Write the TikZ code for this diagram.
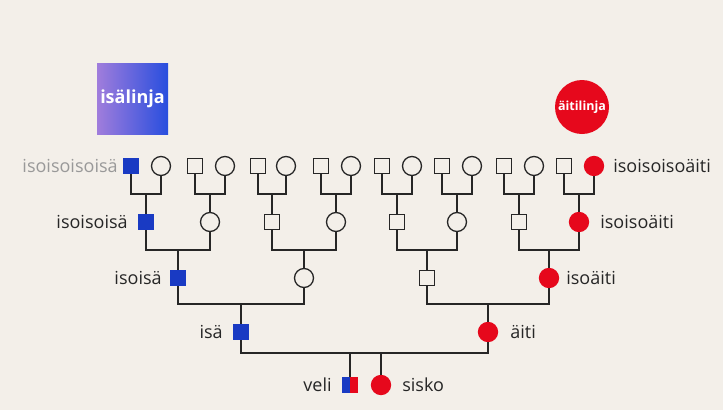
\documentclass[tikz,border=0pt]{standalone}
\usepackage{fontspec}
\setmainfont{Open Sans}
\usetikzlibrary{positioning}
\definecolor{paper}{RGB}{243,239,233}
\definecolor{patblue}{RGB}{25,58,195}
\definecolor{headblue}{RGB}{40,78,222}
\definecolor{patviolet}{RGB}{160,125,220}
\definecolor{matred}{RGB}{230,8,28}
\definecolor{ink}{RGB}{38,38,38}
\tikzset{
  man/.style={draw=ink, line width=1.3pt, fill=paper, minimum size=15pt, inner sep=0pt},
  woman/.style={circle, draw=ink, line width=1.3pt, fill=paper, minimum size=19pt, inner sep=0pt},
  blueman/.style={man, draw=patblue, fill=patblue},
  redwoman/.style={woman, draw=matred, fill=matred},
  lab/.style={inner sep=0pt, text=ink, font=\fontsize{18}{21}\selectfont},
  link/.style={draw=ink, line width=1.3pt},
}
\begin{document}
\begin{tikzpicture}[x=1pt, y=-1pt]
    \path[use as bounding box, fill=paper] (0,0) rectangle (723,410);
    % otsikot
    \node[minimum size=71pt, inner sep=0pt, left color=patviolet, middle color=headblue!80!patviolet,
          right color=headblue, text=white,
          font=\bfseries\fontsize{18}{21}\selectfont] (isalinja) at (132.5,99) {isälinja};
    \node[circle, minimum size=54pt, inner sep=0pt, fill=matred, text=white,
          font=\bfseries\fontsize{12.5}{15}\selectfont] (aitilinja) at (582,107) {äitilinja};
    % ylin rivi
    \node[blueman] (a1) at (131,166) {};
    \node[woman] (a2) at (161,166) {};
    \node[man] (a3) at (195,166) {};
    \node[woman] (a4) at (225,166) {};
    \node[man] (a5) at (258,166) {};
    \node[woman] (a6) at (286,166) {};
    \node[man] (a7) at (321,166) {};
    \node[woman] (a8) at (351,166) {};
    \node[man] (a9) at (382,166) {};
    \node[woman] (a10) at (412,166) {};
    \node[man] (a11) at (442,166) {};
    \node[woman] (a12) at (472,166) {};
    \node[man] (a13) at (504,166) {};
    \node[woman] (a14) at (534,166) {};
    \node[man] (a15) at (564,166) {};
    \node[redwoman] (a16) at (594,166) {};
    % toinen rivi
    \node[blueman] (b1) at (146,222) {};
    \node[woman] (b2) at (210,222) {};
    \node[man] (b3) at (272,222) {};
    \node[woman] (b4) at (336,222) {};
    \node[man] (b5) at (397,222) {};
    \node[woman] (b6) at (457,222) {};
    \node[man] (b7) at (519,222) {};
    \node[redwoman] (b8) at (579,222) {};
    % kolmas rivi
    \node[blueman] (c1) at (178,278) {};
    \node[woman] (c2) at (304,278) {};
    \node[man] (c3) at (427,278) {};
    \node[redwoman] (c4) at (549,278) {};
    % vanhemmat ja lapset
    \node[blueman] (isa) at (241,332) {};
    \node[redwoman] (aiti) at (488,332) {};
    \node[man, draw=none, fill=none] (veli) at (350,385) {};
    \fill[patblue] (veli.south west) rectangle (veli.north);
    \fill[matred] (veli.south) rectangle (veli.north east);
    \node[redwoman] (sisko) at (381,385) {};
    % liitokset
    \coordinate (ja1) at (146,194);
    \coordinate (ja2) at (210,194);
    \coordinate (ja3) at (272,194);
    \coordinate (ja4) at (336,194);
    \coordinate (ja5) at (397,194);
    \coordinate (ja6) at (457,194);
    \coordinate (ja7) at (519,194);
    \coordinate (ja8) at (579,194);
    \coordinate (jb1) at (178,250);
    \coordinate (jb2) at (304,250);
    \coordinate (jb3) at (427,250);
    \coordinate (jb4) at (549,250);
    \coordinate (jc1) at (241,304);
    \coordinate (jc2) at (488,304);
    \coordinate (jd) at (365,353);
    \draw[link] (a1) |- (ja1) -| (a2);   \draw[link] (ja1) -- (b1);
    \draw[link] (a3) |- (ja2) -| (a4);   \draw[link] (ja2) -- (b2);
    \draw[link] (a5) |- (ja3) -| (a6);   \draw[link] (ja3) -- (b3);
    \draw[link] (a7) |- (ja4) -| (a8);   \draw[link] (ja4) -- (b4);
    \draw[link] (a9) |- (ja5) -| (a10);  \draw[link] (ja5) -- (b5);
    \draw[link] (a11) |- (ja6) -| (a12); \draw[link] (ja6) -- (b6);
    \draw[link] (a13) |- (ja7) -| (a14); \draw[link] (ja7) -- (b7);
    \draw[link] (a15) |- (ja8) -| (a16); \draw[link] (ja8) -- (b8);
    \draw[link] (b1) |- (jb1) -| (b2);   \draw[link] (jb1) -- (c1);
    \draw[link] (b3) |- (jb2) -| (b4);   \draw[link] (jb2) -- (c2);
    \draw[link] (b5) |- (jb3) -| (b6);   \draw[link] (jb3) -- (c3);
    \draw[link] (b7) |- (jb4) -| (b8);   \draw[link] (jb4) -- (c4);
    \draw[link] (c1) |- (jc1) -| (c2);   \draw[link] (jc1) -- (isa);
    \draw[link] (c3) |- (jc2) -| (c4);   \draw[link] (jc2) -- (aiti);
    \draw[link] (isa) |- (jd) -| (aiti);
    \draw[link] (veli |- jd) -- (veli);
    \draw[link] (sisko |- jd) -- (sisko);
    % nimet
    \node[lab, text=black!40, left=5pt of a1] (n1) {isoisoisoisä};
    \node[lab, left=10pt of b1] (n2) {isoisoisä};
    \node[lab, left=8pt of c1] (n3) {isoisä};
    \node[lab, left=10pt of isa] (n4) {isä};
    \node[lab, left=10pt of veli] (n5) {veli};
    \node[lab, right=11pt of sisko] (n6) {sisko};
    \node[lab, right=12pt of aiti] (n7) {äiti};
    \node[lab, right=7pt of c4] (n8) {isoäiti};
    \node[lab, right=11pt of b8] (n9) {isoisoäiti};
    \node[lab, right=9pt of a16] (n10) {isoisoisoäiti};
\end{tikzpicture}
\end{document}
